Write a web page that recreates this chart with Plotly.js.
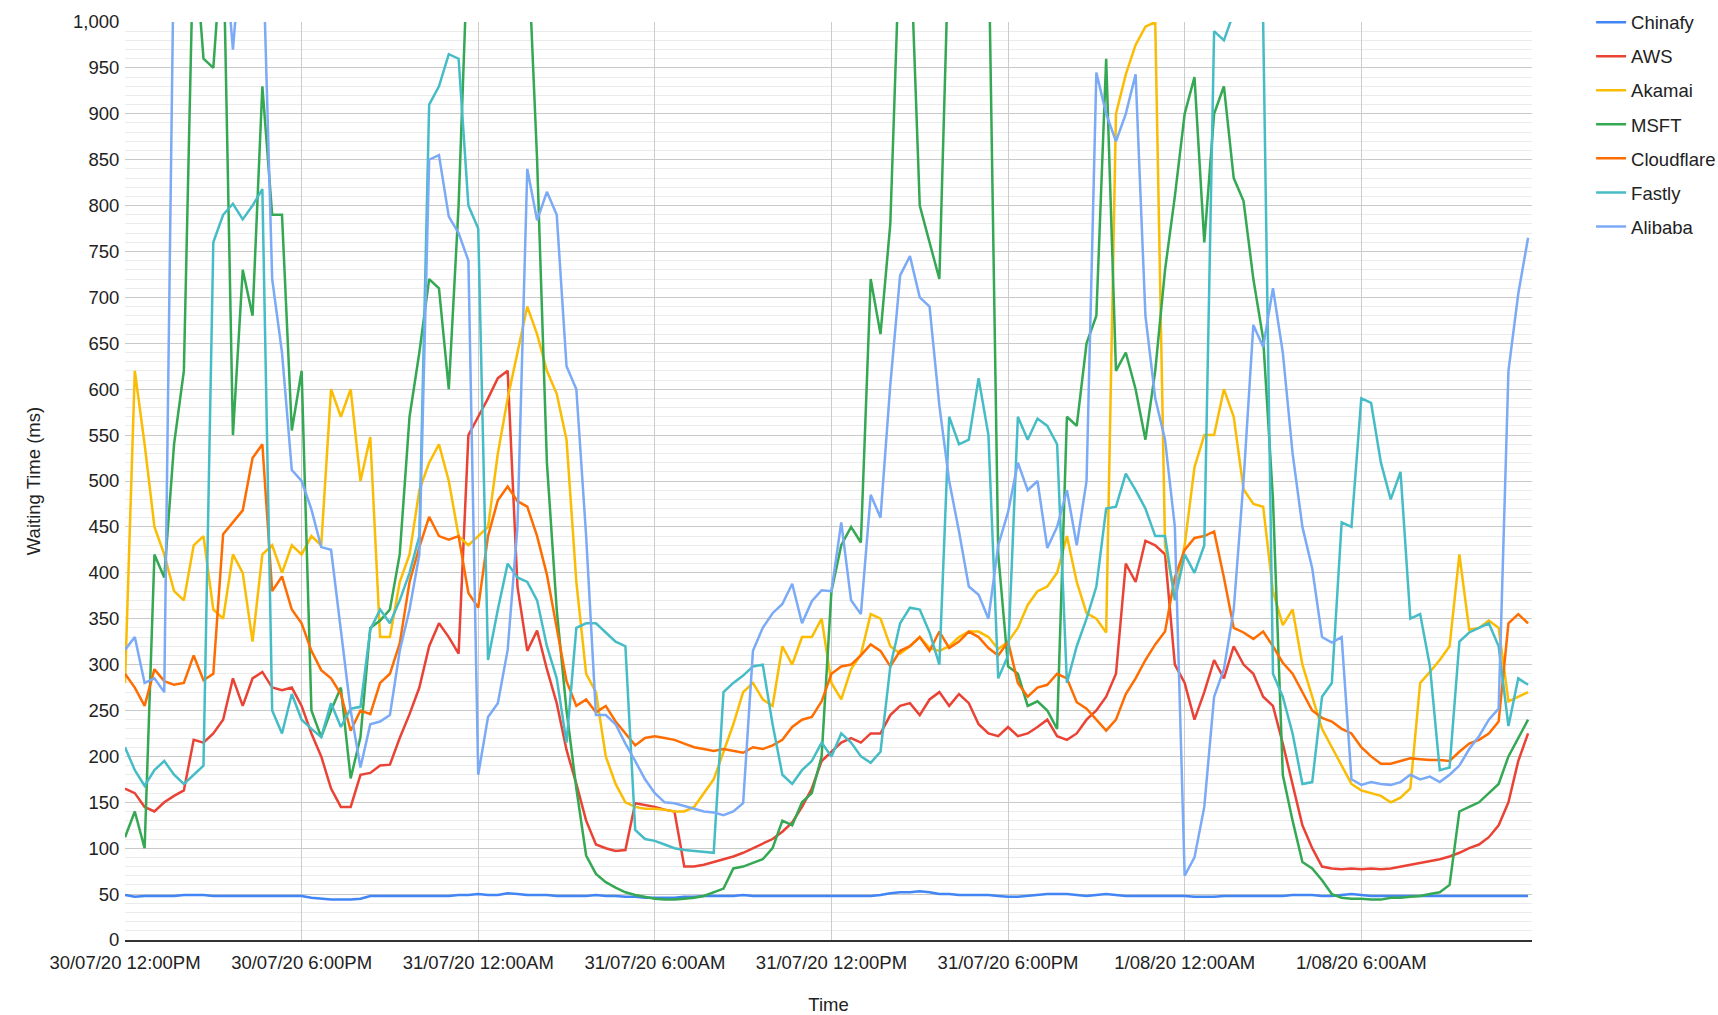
<!DOCTYPE html>
<html>
<head>
<meta charset="utf-8">
<script src="https://cdn.plot.ly/plotly-3.0.1.min.js"></script>
<style>
  html, body { margin: 0; padding: 0; background: #ffffff; }
  #chart { width: 1718px; height: 1015px; }
</style>
</head>
<body>
<div id="chart"></div>
<script>
// Samples every 20 minutes starting 30/07/20 12:00PM
const START_TIME = '2020-07-30T12:00:00Z';
const STEP_MINUTES = 20;

const seriesNames = ['Chinafy', 'AWS', 'Akamai', 'MSFT', 'Cloudflare', 'Fastly', 'Alibaba'];
const seriesColors = ['#4285F4', '#EA4335', '#FBBC04', '#34A853', '#FF6D01', '#46BDC6', '#7BAAF7'];

const chinafy = [
  49,47,48, 48,48,48, 49,49,49, 48,48,48, 48,48,48, 48,48,48, 48,46,45, 44,44,44,
  45,48,48, 48,48,48, 48,48,48, 48,49,49, 50,49,49, 51,50,49, 49,49,48, 48,48,48,
  49,48,48, 47,47,46, 46,46,46, 47,47,48, 48,48,48, 49,48,48, 48,48,48, 48,48,48,
  48,48,48, 48,48,49, 51,52,52, 53,52,50, 50,49,49, 49,49,48, 47,47,48, 49,50,50,
  50,49,48, 49,50,49, 48,48,48, 48,48,48, 48,47,47, 47,48,48, 48,48,48, 48,48,49,
  49,49,48, 48,49,50, 49,48,48, 48,48,48, 48,48,48, 48,48,48, 48,48,48, 48,48,48
];

const aws = [
  165,160,145, 140,150,157, 163,218,215, 225,240,285, 255,285,292, 275,272,275,
  255,225,200, 165,145,145, 180,182,190, 191,220,246, 275,320,345, 330,312,550,
  570,590,612, 620,385,315, 337,295,258, 207,170,130, 104,100,97, 98,149,147,
  145,142,140, 80,80,82, 85,88,91, 95,100,105, 110,118,128, 145,165,195,
  205,215,220, 215,225,225, 245,255,258, 245,262,270, 255,268,258, 235,225,222,
  232,222,225, 232,240,222, 218,225,240, 250,265,290, 410,390,435, 430,420,300,
  280,240,270, 305,285,320, 300,290,265, 255,214,170, 125,100,80, 78,77,78,
  77,78,77, 78,80,82, 84,86,88, 91,95,100, 104,112,125, 150,195,225
];

const akamai = [
  280,620,540, 450,420,380, 370,430,440, 360,350,420, 400,325,420, 430,400,430,
  420,440,430, 600,570,600, 500,548,330, 330,390,420, 490,520,540, 500,440,430,
  440,450,530, 590,640,690, 660,620,595, 545,390,290, 270,200,170, 150,145,143,
  143,142,140, 140,145,160, 175,205,235, 270,280,262, 255,320,300, 330,330,350,
  280,262,295, 311,355,350, 320,312,320, 330,318,315, 320,330,336, 336,330,317,
  325,340,365, 380,385,400, 440,390,356, 350,335,900, 943,975,995, 1000,430,375,
  430,515,550, 550,600,570, 491,475,472, 380,343,360, 300,265,230, 210,190,170,
  163,160,157, 150,155,165, 280,292,305, 320,420,338, 340,348,340, 260,265,270
];

const msft = [
  112,140,100, 420,395,540, 620,1100,960, 950,1100,550, 730,680,930, 790,790,555,
  620,250,221, 250,275,176, 221,340,348, 360,420,570, 640,720,710, 600,800,1100,
  1100,1100,1100, 1100,1100,1100, 850,520,360, 250,165,92, 72,63,57, 52,49,47,
  45,44,44, 45,46,48, 52,56,78, 80,84,88, 100,130,125, 150,160,200,
  380,430,450, 433,720,660, 780,1100,1100, 800,760,720, 1100,1100,1100, 1100,1100,420,
  298,290,255, 260,250,230, 570,560,650, 680,960,620, 640,600,545, 620,730,810,
  900,940,760, 900,930,830, 805,720,655, 480,180,130, 85,78,65, 50,46,45,
  45,44,44, 46,46,47, 48,50,52, 60,140,145, 150,160,170, 200,220,240
];

const cloudflare = [
  290,275,255, 295,282,278, 280,310,283, 290,442,455, 468,525,540, 380,396,360,
  345,315,294, 285,268,228, 250,246,280, 290,323,390, 428,461,440, 436,440,378,
  362,440,479, 494,478,472, 440,398,340, 282,255,262, 248,255,238, 225,212,220,
  222,220,218, 214,210,208, 206,208,206, 204,210,208, 212,218,232, 240,243,260,
  290,298,300, 310,322,315, 298,315,320, 330,315,336, 318,325,336, 330,318,310,
  325,280,265, 275,278,290, 285,259,252, 240,228,240, 268,285,305, 322,336,395,
  425,438,440, 445,395,340, 335,328,336, 320,302,290, 270,250,242, 238,230,225,
  210,200,192, 192,195,198, 197,196,196, 195,205,214, 218,225,238, 345,355,345
];

const fastly = [
  210,185,168, 185,195,180, 170,180,190, 760,790,802, 785,800,818, 250,225,268,
  240,230,221, 258,232,252, 254,338,360, 345,370,400, 440,910,930, 965,960,800,
  775,305,360, 410,395,390, 370,320,285, 215,340,345, 345,335,325, 320,120,110,
  108,104,100, 98,97,96, 95,270,280, 288,298,300, 235,180,170, 185,195,215,
  200,225,215, 200,193,205, 298,345,362, 360,335,300, 570,540,545, 612,550,285,
  310,570,545, 568,560,540, 280,320,350, 385,470,472, 508,490,470, 440,440,370,
  420,400,430, 990,980,1010, 1010,1010,1000, 290,265,225, 170,172,265, 280,455,450,
  590,585,520, 480,510,350, 355,298,185, 188,325,335, 340,345,320, 233,285,278
];

const alibaba = [
  316,330,280, 285,270,1100, 1100,1100,1100, 1100,1100,970, 1100,1100,1100, 720,640,512,
  500,469,428, 425,340,250, 188,235,238, 245,315,360, 420,850,855, 788,770,740,
  180,243,258, 316,450,840, 784,815,790, 625,600,440, 245,245,235, 214,195,175,
  160,150,149, 146,143,140, 139,136,140, 149,315,340, 356,366,388, 345,369,381,
  380,455,370, 355,485,460, 605,724,745, 700,690,582, 500,445,385, 376,350,430,
  466,520,490, 500,427,450, 490,430,500, 945,900,870, 900,943,680, 590,545,450,
  70,90,145, 265,295,360, 500,670,646, 710,640,530, 450,405,330, 324,330,175,
  169,172,170, 169,172,180, 175,178,172, 180,190,208, 222,240,252, 620,704,765
];

const tickTimes = ['2020-07-30 12:00', '2020-07-30 18:00', '2020-07-31 00:00', '2020-07-31 06:00',
                   '2020-07-31 12:00', '2020-07-31 18:00', '2020-08-01 00:00', '2020-08-01 06:00'];
const tickLabels = ['30/07/20 12:00PM', '30/07/20 6:00PM', '31/07/20 12:00AM', '31/07/20 6:00AM',
                    '31/07/20 12:00PM', '31/07/20 6:00PM', '1/08/20 12:00AM', '1/08/20 6:00AM'];

const allSeries = [chinafy, aws, akamai, msft, cloudflare, fastly, alibaba];

const startMs = Date.parse(START_TIME);
const times = chinafy.map((_, i) =>
  new Date(startMs + i * STEP_MINUTES * 60000).toISOString().slice(0, 19).replace('T', ' '));

const FONT = 'Liberation Sans, Arial, sans-serif';
const FS = 18.5;

const traces = allSeries.map((vals, k) => ({
  type: 'scatter',
  mode: 'lines',
  name: seriesNames[k],
  legendgroup: 'g' + k,
  x: times,
  y: vals,
  line: { color: seriesColors[k], width: 2.5 },
  hoverinfo: 'x+y+name'
}));

const layout = {
  width: 1718,
  height: 1015,
  margin: { l: 125, r: 186, t: 22, b: 75, autoexpand: false },
  paper_bgcolor: '#ffffff',
  plot_bgcolor: '#ffffff',
  font: { family: FONT, size: FS, color: '#222222' },
  showlegend: true,
  legend: {
    x: 1.042, y: 1.02, xanchor: 'left', yanchor: 'top',
    font: { family: FONT, size: FS, color: '#222222' },
    tracegroupgap: 7,
    bgcolor: 'rgba(0,0,0,0)'
  },
  xaxis: {
    type: 'date',
    automargin: false,
    range: ['2020-07-30 12:00', '2020-08-01 11:48'],
    tickmode: 'array',
    tickvals: tickTimes,
    ticktext: tickLabels,
    showgrid: true,
    gridcolor: '#cccccc',
    gridwidth: 1,
    zeroline: false,
    showline: true,
    linecolor: '#333333',
    linewidth: 1.5,
    ticks: 'outside',
    ticklen: 5,
    tickcolor: 'rgba(0,0,0,0)',
    tickfont: { family: FONT, size: FS, color: '#222222' },
    title: { text: 'Time', font: { family: FONT, size: FS, color: '#222222' }, standoff: 30 }
  },
  yaxis: {
    automargin: false,
    range: [0, 1000],
    tick0: 0,
    dtick: 50,
    tickformat: ',d',
    showgrid: true,
    gridcolor: '#c9c9c9',
    gridwidth: 1,
    minor: { dtick: 10, showgrid: true, gridcolor: '#ebebeb', gridwidth: 1 },
    zeroline: false,
    showline: false,
    ticks: 'outside',
    ticklen: 1,
    tickcolor: 'rgba(0,0,0,0)',
    tickfont: { family: FONT, size: FS, color: '#222222' },
    title: { text: 'Waiting Time (ms)', font: { family: FONT, size: FS, color: '#222222' }, standoff: 27 }
  }
};

Plotly.newPlot('chart', traces, layout, { staticPlot: true, displayModeBar: false });
</script>
</body>
</html>
